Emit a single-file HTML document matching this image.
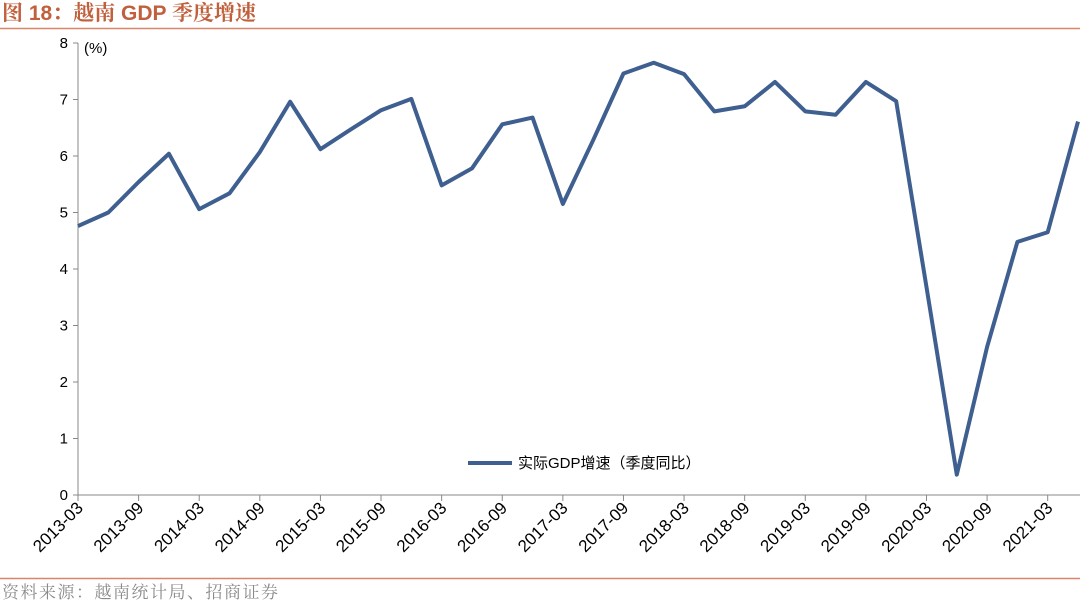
<!DOCTYPE html>
<html><head><meta charset="utf-8"><style>
body{margin:0;background:#fff;width:1080px;height:603px;overflow:hidden;font-family:"Liberation Sans","Noto Sans CJK SC",sans-serif}
</style></head><body>
<svg width="1080" height="603">
<text x="2" y="20" font-size="21" font-weight="bold" fill="#c0603d" font-family="'Liberation Sans','Noto Serif CJK SC',serif">图 18：越南 GDP 季度增速</text>
<line x1="0" y1="28.5" x2="1080" y2="28.5" stroke="#d9856a" stroke-width="1.5"/>
<line x1="0" y1="578.5" x2="1080" y2="578.5" stroke="#d9856a" stroke-width="1.5"/>
<text x="2" y="598" font-size="17" letter-spacing="1.5" fill="#8a8a8a" font-family="'Liberation Serif','Noto Serif CJK SC',serif">资料来源：越南统计局、招商证券</text>
<text x="84" y="53" font-size="15" fill="#000">(%)</text>
<g id="axes"></g>
<g id="plot"></g>
<g>
<line x1="468" y1="463" x2="512" y2="463" stroke="#3e5f8f" stroke-width="4"/>
<text x="518" y="468" font-size="15" fill="#000">实际GDP增速（季度同比）</text>
</g>
</svg>
<script>
const labels=["2013-03","2013-09","2014-03","2014-09","2015-03","2015-09","2016-03","2016-09","2017-03","2017-09","2018-03","2018-09","2019-03","2019-09","2020-03","2020-09","2021-03"];
const yTicks=[0,1,2,3,4,5,6,7,8];
const gdp=[4.76,5.00,5.54,6.04,5.06,5.34,6.07,6.96,6.12,6.47,6.81,7.01,5.48,5.78,6.56,6.68,5.15,6.28,7.46,7.65,7.45,6.79,6.88,7.31,6.79,6.73,7.31,6.97,3.68,0.36,2.62,4.48,4.65,6.61];
const NS="http://www.w3.org/2000/svg";
const x0=78,x1=1078,y0=495,y8=43;
const X=i=>x0+i*(x1-x0)/(gdp.length-1);
const Y=v=>y0-(v/8)*(y0-y8);
const ax=document.getElementById('axes'),pl=document.getElementById('plot');
function mk(tag,at,par){const e=document.createElementNS(NS,tag);for(const k in at)e.setAttribute(k,at[k]);par.appendChild(e);return e;}
const ya=mk('line',{x1:x0,y1:y8,x2:x0,y2:y0,stroke:'#888','stroke-width':1},ax);


const xa=mk('line',{x1:x0,y1:y0,x2:1080,y2:y0,stroke:'#888','stroke-width':1},ax);


yTicks.forEach(v=>{
  mk('line',{x1:x0-5,y1:Y(v),x2:x0,y2:Y(v),stroke:'#888'},ax);
  const t=mk('text',{x:x0-10,y:Y(v)+5,'font-size':15,'text-anchor':'end',fill:'#000'},ax);
  t.textContent=v;
  
  
});
labels.forEach((l,k)=>{
  const x=X(k*2);
  mk('line',{x1:x,y1:y0,x2:x,y2:y0+6,stroke:'#888'},ax);
  const t=mk('text',{x:x+6,y:y0+14,'font-size':17,'text-anchor':'end',fill:'#000',transform:`rotate(-45 ${x+6} ${y0+14})`},ax);
  t.textContent=l;
  
  
});
const p=mk('polyline',{points:gdp.map((v,i)=>X(i)+','+Y(v)).join(' '),fill:'none',stroke:'#3e5f8f','stroke-width':4,'stroke-linejoin':'round'},pl);


</script>
</body></html>
